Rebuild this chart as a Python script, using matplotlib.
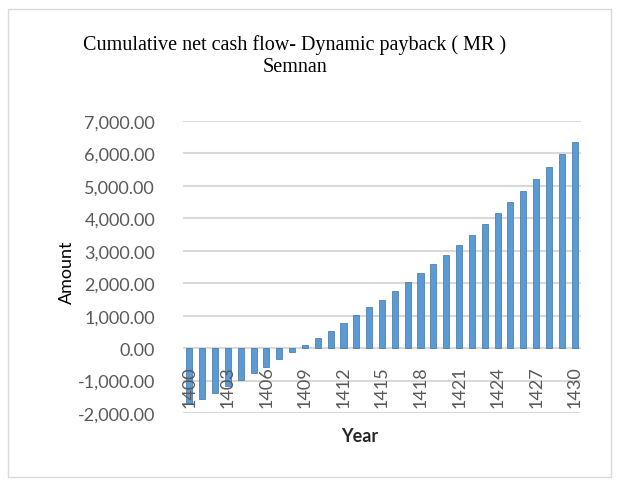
import matplotlib.pyplot as plt
from matplotlib.patches import Rectangle
from matplotlib.ticker import FuncFormatter

years = list(range(1400, 1431))
cum_cash = [-1690, -1560, -1380, -1180, -990, -780, -590, -350, -120,
            100, 320, 540, 780, 1020, 1270, 1490, 1760, 2030, 2300,
            2590, 2880, 3190, 3500, 3830, 4160, 4500, 4850, 5210,
            5580, 5970, 6360]
yticks = [-2000, -1000, 0, 1000, 2000, 3000, 4000, 5000, 6000, 7000]

fig = plt.figure(figsize=(6.18, 4.81), dpi=100)
ax = fig.add_axes([183 / 618, 1 - 414 / 481, 398 / 618, 292 / 481])

# chart border
fig.patches.append(Rectangle((8 / 618, 3 / 481), 603 / 618, 468 / 481,
                             transform=fig.transFigure, fill=False,
                             edgecolor="#D9D9D9", linewidth=1))

x = list(range(len(years)))
ax.bar(x, cum_cash, width=0.47, color="#5B9BD5", edgecolor="#41719C",
       linewidth=0.5, zorder=3)

ax.set_xlim(-0.5, len(years) - 0.5)
ax.set_ylim(-2000, 7000)
ax.set_yticks(yticks)
ax.yaxis.set_major_formatter(FuncFormatter(lambda v, p: f"{v:,.2f}"))
ax.grid(axis="y", color="#D9D9D9", linewidth=1.5, zorder=0)
ax.axhline(0, color="#D9D9D9", linewidth=1.5, zorder=1)
for s in ax.spines.values():
    s.set_visible(False)
ax.tick_params(axis="y", length=0, pad=20, labelsize=13, labelcolor="#595959")
for lab in ax.get_yticklabels():
    lab.set_fontfamily("Lato")

ax.set_xticks([])
for i, yr in enumerate(years):
    if (yr - 1400) % 3 == 0:
        ax.text(i, -520, str(yr), rotation=90, ha="center", va="top",
                fontsize=13, color="#595959", family="Lato", zorder=4)

fig.text(295 / 618, 1 - 45 / 481, "Cumulative net cash flow- Dynamic payback ( MR )",
         ha="center", va="center", fontsize=14.5, family="Liberation Serif")
fig.text(295 / 618, 1 - 68 / 481, "Semnan",
         ha="center", va="center", fontsize=14.5, family="Liberation Serif")
fig.text(67 / 618, 1 - 272 / 481, "Amount", rotation=90, ha="center",
         va="center", fontsize=13, family="Lato")
fig.text(360 / 618, 1 - 436 / 481, "Year", ha="center", va="center",
         fontsize=13, fontweight="bold", family="Lato", color="#262626")

fig.savefig("out.png", dpi=100)
